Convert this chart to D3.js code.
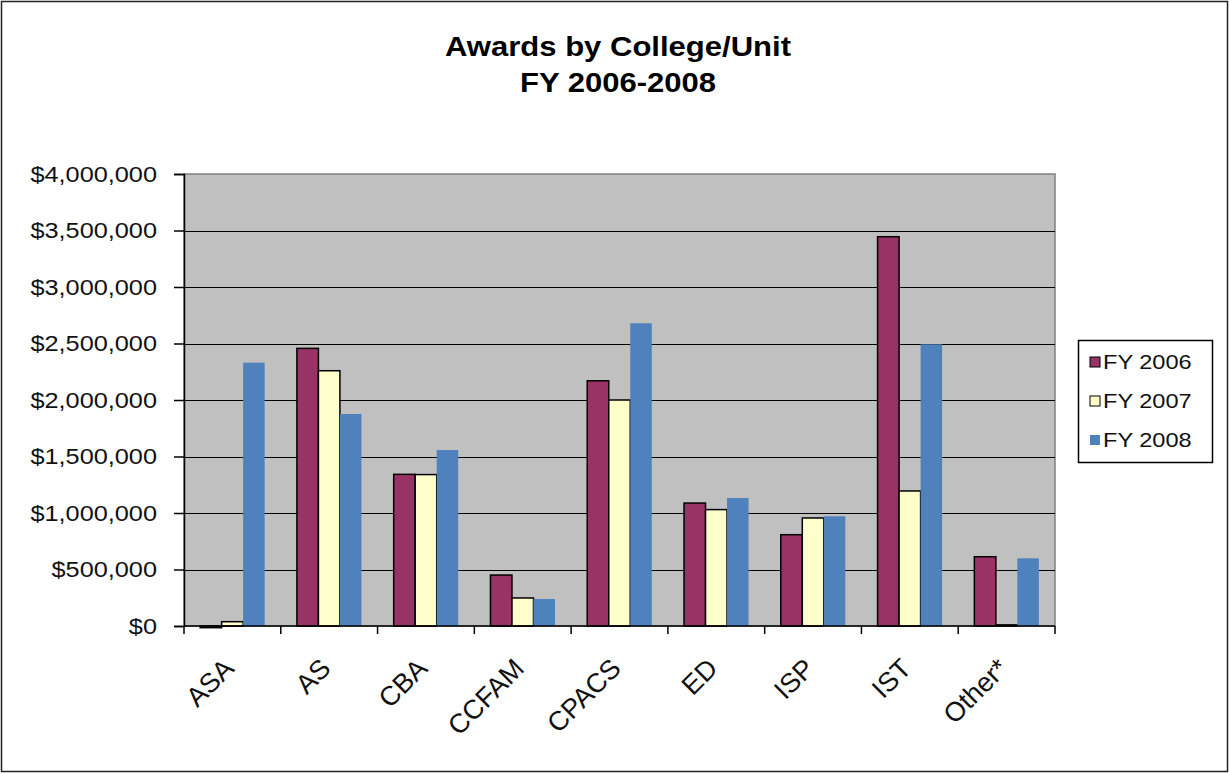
<!DOCTYPE html>
<html>
<head>
  <meta charset="utf-8">
  <title>Awards by College/Unit</title>
  <style>
    body { margin: 0; background: #fff; overflow: hidden; }
    text { font-family: "Liberation Sans", Arial, sans-serif; fill: #000; }
    .title { font-weight: bold; font-size: 27px; text-anchor: middle; }
    .ylab { font-size: 22px; fill: #111; }
    .xlab { font-size: 27px; fill: #111; }
    .leg { font-size: 20.5px; fill: #111; }
  </style>
</head>
<body>
<svg id="chart" width="1230" height="774"></svg>
<script src="https://cdn.jsdelivr.net/npm/d3@7"></script>
<script>
// values
var categories = ["ASA", "AS", "CBA", "CCFAM", "CPACS", "ED", "ISP", "IST", "Other*"];
var seriesNames = ["FY 2006", "FY 2007", "FY 2008"];
var fy2006 = [-15000, 2457000, 1342000, 451000, 2170000, 1088000, 808000, 3445000, 613000];
var fy2007 = [38000, 2259000, 1340000, 248000, 2000000, 1030000, 956000, 1195000, 10000];
var fy2008 = [2330000, 1876000, 1557000, 239000, 2679000, 1133000, 971000, 2493000, 599000];
var yTicks = [0, 500000, 1000000, 1500000, 2000000, 2500000, 3000000, 3500000, 4000000];
var titleLines = ["Awards by College/Unit", "FY 2006-2008"];

var colors = ["#993366", "#FFFFCC", "#4F81BD"];
var strokes = ["#000", "#000", "none"];
var sx = 1.15; // the reference looks stretched sideways a bit

var svg = d3.select("#chart");
var plot = {left: 184, right: 1055, top: 174, bottom: 626};

// outer border of the chart
svg.append("rect")
    .attr("x", 1.5).attr("y", 1.5).attr("width", 1226).attr("height", 770)
    .attr("fill", "#fff").attr("stroke", "#222").attr("stroke-width", 1.5);

var x0 = d3.scaleBand().domain(categories).range([plot.left, plot.right]);
var x1 = d3.scaleBand().domain(seriesNames).range([0, x0.bandwidth()])
    .paddingInner(0).paddingOuter(0.75);
var y = d3.scaleLinear().domain([0, 4000000]).range([plot.bottom, plot.top]);

// plot area
svg.append("rect")
    .attr("x", plot.left).attr("y", plot.top)
    .attr("width", plot.right - plot.left).attr("height", plot.bottom - plot.top)
    .attr("fill", "#C0C0C0").attr("stroke", "#808080").attr("stroke-width", 1.5);

// gridlines
svg.append("g").selectAll("line")
    .data(yTicks.filter(function(d) { return d > 0 && d < 4000000; }))
  .enter().append("line")
    .attr("x1", plot.left).attr("x2", plot.right)
    .attr("y1", function(d) { return Math.round(y(d)) + 0.5; })
    .attr("y2", function(d) { return Math.round(y(d)) + 0.5; })
    .attr("stroke", "#000").attr("stroke-width", 1.2);

// bars
var table = categories.map(function(c, i) {
  return {cat: c, vals: [fy2006[i], fy2007[i], fy2008[i]]};
});
var groups = svg.append("g").selectAll("g")
    .data(table)
  .enter().append("g")
    .attr("transform", function(d) { return "translate(" + x0(d.cat) + ",0)"; });
groups.selectAll("rect")
    .data(function(d) { return d.vals.map(function(v, k) { return {s: seriesNames[k], k: k, v: v}; }); })
  .enter().append("rect")
    .attr("x", function(d) { return x1(d.s); })
    .attr("width", x1.bandwidth())
    .attr("y", function(d) { return Math.min(y(d.v), y(0)); })
    .attr("height", function(d) { return Math.abs(y(d.v) - y(0)); })
    .attr("fill", function(d) { return colors[d.k]; })
    .attr("stroke", function(d) { return strokes[d.k]; })
    .attr("stroke-width", 1.5);

// y axis
var yAxis = svg.append("g")
    .attr("transform", "translate(" + plot.left + ",0)")
    .call(d3.axisLeft(y).tickValues(yTicks).tickSize(10).tickPadding(17)
      .tickFormat(function(d) { return "$" + d3.format(",")(d); }));
yAxis.select(".domain").attr("stroke", "#000").attr("stroke-width", 1.5);
yAxis.selectAll(".tick line").attr("stroke", "#000").attr("stroke-width", 1.5);
yAxis.selectAll(".tick text")
    .attr("class", "ylab")
    .attr("font-size", null).attr("font-family", null).attr("fill", null)
    .attr("transform", function() {
      var xx = +d3.select(this).attr("x");
      return "translate(" + xx + ",0) scale(" + sx + ",1) translate(" + (-xx) + ",0)";
    });

// x axis: ticks at category boundaries
var xAxisG = svg.append("g");
xAxisG.append("line")
    .attr("x1", plot.left).attr("x2", plot.right)
    .attr("y1", plot.bottom).attr("y2", plot.bottom)
    .attr("stroke", "#000").attr("stroke-width", 1.5);
var bounds = categories.map(function(c) { return x0(c); }).concat([plot.right]);
xAxisG.selectAll("line.tk")
    .data(bounds)
  .enter().append("line")
    .attr("class", "tk")
    .attr("x1", function(d) { return d; }).attr("x2", function(d) { return d; })
    .attr("y1", plot.bottom).attr("y2", plot.bottom + 8)
    .attr("stroke", "#000").attr("stroke-width", 1.5);
xAxisG.selectAll("text")
    .data(categories)
  .enter().append("text")
    .attr("class", "xlab")
    .attr("text-anchor", "end")
    .attr("transform", function(d) {
      return "translate(" + (x0(d) + x0.bandwidth() / 2 + 3) + "," + (plot.bottom + 44) + ") rotate(-45)";
    })
    .text(function(d) { return d; });

// title
svg.append("g").selectAll("text")
    .data(titleLines)
  .enter().append("text")
    .attr("class", "title")
    .attr("transform", function(d, i) { return "translate(618," + (56 + i * 36) + ") scale(" + sx + ",1)"; })
    .text(function(d) { return d; });

// legend
var leg = svg.append("g").attr("transform", "translate(1078,340)");
leg.append("rect")
    .attr("x", 0.5).attr("y", 0.5).attr("width", 134).attr("height", 122)
    .attr("fill", "#fff").attr("stroke", "#000").attr("stroke-width", 1.5);
var items = leg.selectAll("g.item")
    .data(seriesNames)
  .enter().append("g")
    .attr("class", "item")
    .attr("transform", function(d, i) { return "translate(12," + (22 + i * 39) + ")"; });
items.append("rect")
    .attr("x", 0).attr("y", -5).attr("width", 10).attr("height", 10)
    .attr("fill", function(d, i) { return colors[i]; })
    .attr("stroke", function(d, i) { return strokes[i]; })
    .attr("stroke-width", 1);
items.append("text")
    .attr("class", "leg")
    .attr("transform", "translate(13,0) scale(" + sx + ",1)")
    .attr("dy", "0.36em")
    .text(function(d) { return d; });
</script>
</body>
</html>
